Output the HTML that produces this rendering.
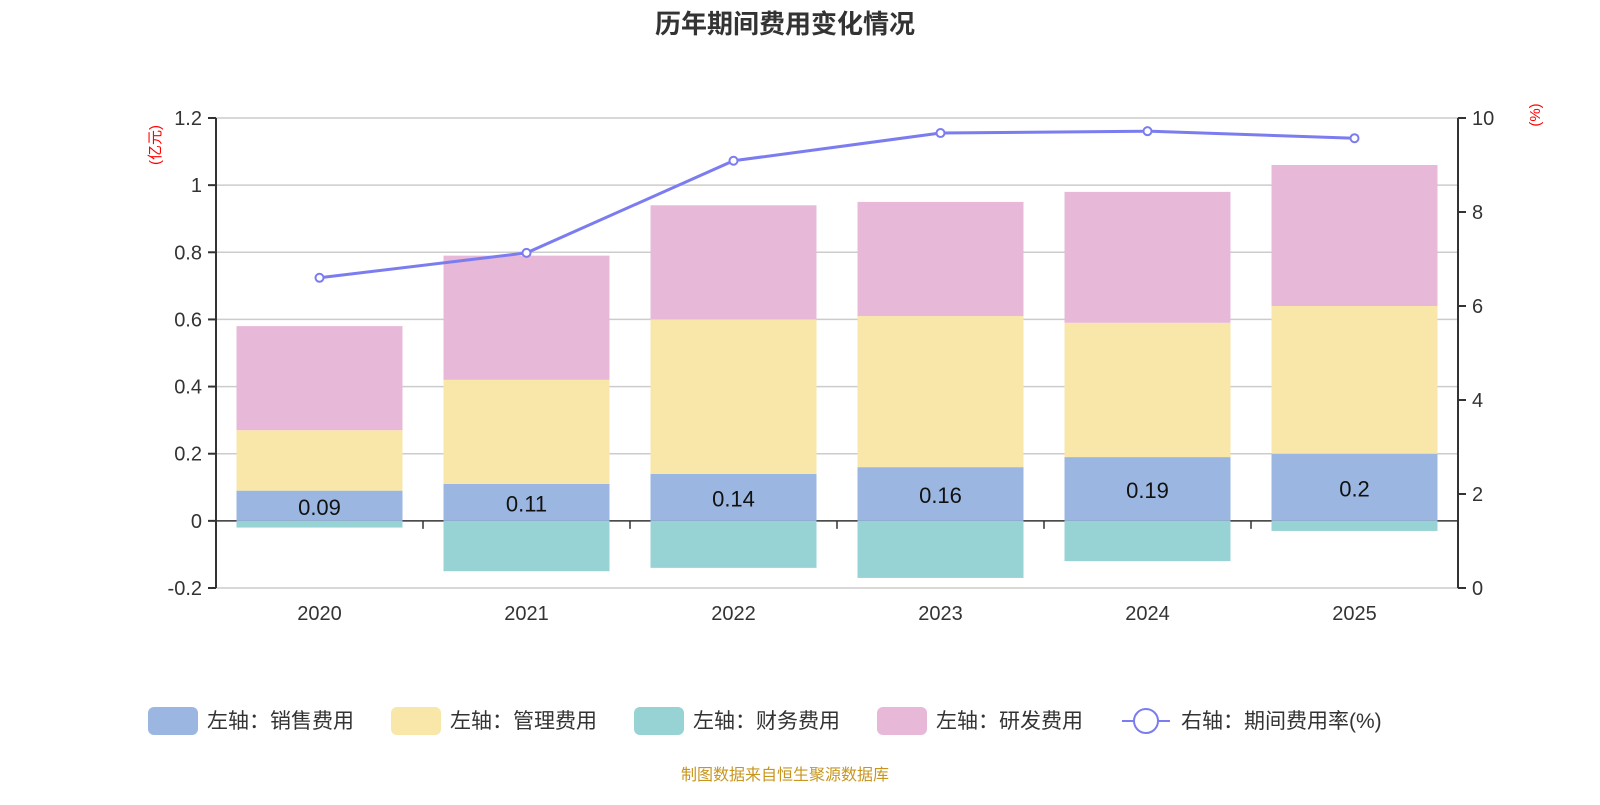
<!DOCTYPE html>
<html><head><meta charset="utf-8"><style>
body{margin:0;background:#fff;width:1600px;height:800px;overflow:hidden;font-family:"Liberation Sans","Noto Sans CJK SC",sans-serif}
svg text{font-family:"Liberation Sans","Noto Sans CJK SC",sans-serif}
</style></head><body>
<svg id="c" width="1600" height="800">
<text x="785" y="33" text-anchor="middle" font-size="26" font-weight="bold" fill="#333">历年期间费用变化情况</text>
<text transform="translate(160,145) rotate(-90)" text-anchor="middle" font-size="15" fill="red">(亿元)</text>
<text transform="translate(1540,115) rotate(-90)" text-anchor="middle" font-size="15" fill="red">(%)</text>
<g id="g"></g>
<text x="785" y="780" text-anchor="middle" font-size="16" fill="#c8961e">制图数据来自恒生聚源数据库</text>
</svg>
<script>
const categories=["2020","2021","2022","2023","2024","2025"];
const sales=[0.09,0.11,0.14,0.16,0.19,0.2];
const admin=[0.18,0.31,0.46,0.45,0.40,0.44];
const finance=[-0.02,-0.15,-0.14,-0.17,-0.12,-0.03];
const rd=[0.31,0.37,0.34,0.34,0.39,0.42];
const rate=[6.6,7.13,9.09,9.68,9.72,9.57];
const leftTicks=[-0.2,0,0.2,0.4,0.6,0.8,1,1.2];
const rightTicks=[0,2,4,6,8,10];
const NS="http://www.w3.org/2000/svg";
const g=document.getElementById('g');
const X0=216,X1=1458,Y0=588,Y1=118;
const yL=v=>Y0-(v+0.2)/1.4*(Y0-Y1);
const yR=v=>Y0-v/10*(Y0-Y1);
const bw=(X1-X0)/categories.length;
const xc=i=>X0+bw*(i+0.5);
function mk(t,a){const e=document.createElementNS(NS,t);for(const k in a)e.setAttribute(k,a[k]);g.appendChild(e);return e;}
leftTicks.forEach(v=>{
 const l=mk('line',{x1:X0,x2:X1,y1:yL(v),y2:yL(v),stroke:v===0?'#333':'#ccc','stroke-width':v===0?1.5:1.5});
 
 
 mk('line',{x1:X0-8,x2:X0,y1:yL(v),y2:yL(v),stroke:'#333','stroke-width':2});
 const t=mk('text',{x:X0-14,y:yL(v)+7,'text-anchor':'end','font-size':20,fill:'#333'});t.textContent=String(v);
 
 
});
rightTicks.forEach(v=>{
 mk('line',{x1:X1,x2:X1+8,y1:yR(v),y2:yR(v),stroke:'#333','stroke-width':2});
 const t=mk('text',{x:X1+14,y:yR(v)+7,'font-size':20,fill:'#333'});t.textContent=String(v);
 
 
});
mk('line',{x1:X0,x2:X0,y1:Y1,y2:Y0,stroke:'#333','stroke-width':2});
mk('line',{x1:X1,x2:X1,y1:Y1,y2:Y0,stroke:'#333','stroke-width':2});
const W=166;
categories.forEach((c,i)=>{
 const x=xc(i)-W/2;
 const segs=[[0,sales[i],'#9bb7e1','bar-sales'],[sales[i],sales[i]+admin[i],'#f8e7a9','bar-admin'],[sales[i]+admin[i],sales[i]+admin[i]+rd[i],'#e7b8d8','bar-rd'],[finance[i],0,'#97d3d5','bar-finance']];
 segs.forEach(s=>{
  const r=mk('rect',{x:x,y:yL(s[1]),width:W,height:yL(s[0])-yL(s[1]),fill:s[2]});
  
  
 });
 const t=mk('text',{x:xc(i),y:(yL(0)+yL(sales[i]))/2+9,'text-anchor':'middle','font-size':22,fill:'#111'});t.textContent=String(sales[i]);
 
 
 const xl=mk('text',{x:xc(i),y:620,'text-anchor':'middle','font-size':20,fill:'#333'});xl.textContent=c;
 
 
 if(i>0) mk('line',{x1:X0+bw*i,x2:X0+bw*i,y1:yL(0),y2:yL(0)+8,stroke:'#333','stroke-width':1.5});
});
const p=mk('polyline',{points:rate.map((v,i)=>xc(i)+','+yR(v)).join(' '),fill:'none',stroke:'#7b7cf0','stroke-width':3});


rate.forEach((v,i)=>{const cc=mk('circle',{cx:xc(i),cy:yR(v),r:4,fill:'#fff',stroke:'#7b7cf0','stroke-width':2});
 
 });
const leg=[['#9bb7e1','左轴：销售费用',148],['#f8e7a9','左轴：管理费用',391],['#97d3d5','左轴：财务费用',634],['#e7b8d8','左轴：研发费用',877]];
leg.forEach(l=>{
 const r=mk('rect',{x:l[2],y:707,width:50,height:28,rx:6,fill:l[0]});
 
 
 const t=mk('text',{x:l[2]+59,y:728,'font-size':21,fill:'#333'});t.textContent=l[1];
 
 
});
mk('line',{x1:1122,x2:1170,y1:721,y2:721,stroke:'#7b7cf0','stroke-width':2});
mk('circle',{cx:1146,cy:721,r:12,fill:'#fff',stroke:'#7b7cf0','stroke-width':2});
const lt=mk('text',{x:1181,y:728,'font-size':21,fill:'#333'});lt.textContent='右轴：期间费用率(%)';


</script>
</body></html>
